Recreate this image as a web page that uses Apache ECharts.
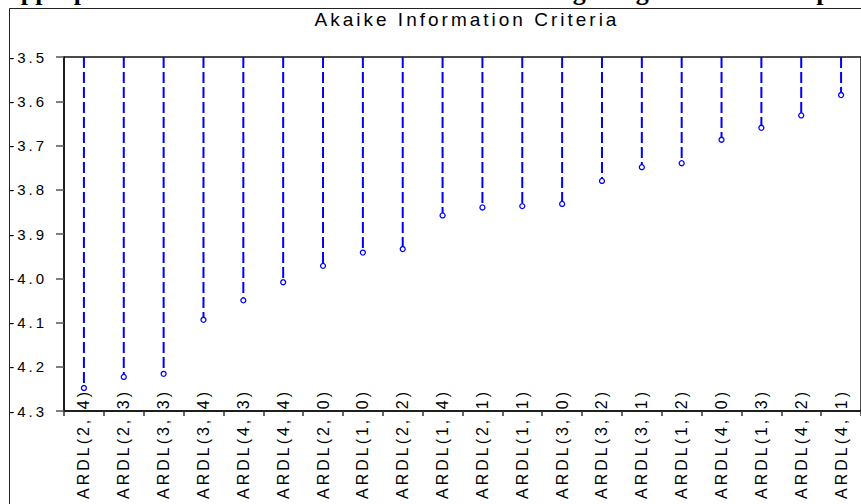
<!DOCTYPE html>
<html>
<head>
<meta charset="utf-8">
<script src="https://cdn.jsdelivr.net/npm/echarts@6/dist/echarts.min.js"></script>
<style>
  html, body { margin: 0; padding: 0; background: #fff; }
  #main { width: 861px; height: 504px; }
  #main text { letter-spacing: 3px; }
  #main text[style*="Serif"] { letter-spacing: 0px; }
</style>
</head>
<body>
<div id="main"></div>
<script>
// ---- data ----
const categories = ['ARDL(2, 4)','ARDL(2, 3)','ARDL(3, 3)','ARDL(3, 4)','ARDL(4, 3)','ARDL(4, 4)','ARDL(2, 0)','ARDL(1, 0)','ARDL(2, 2)','ARDL(1, 4)','ARDL(2, 1)','ARDL(1, 1)','ARDL(3, 0)','ARDL(3, 2)','ARDL(3, 1)','ARDL(1, 2)','ARDL(4, 0)','ARDL(1, 3)','ARDL(4, 2)','ARDL(4, 1)'];
const aicValues = [-4.248,-4.223,-4.216,-4.094,-4.050,-4.009,-3.972,-3.942,-3.934,-3.858,-3.840,-3.837,-3.832,-3.780,-3.749,-3.740,-3.687,-3.660,-3.632,-3.586];
const yMin = -4.3;
const yMax = -3.5;
const yStep = 0.1;
const chartTitle = 'Akaike Information Criteria';
const headingText = 'Appropriate Model Selection of ARDL Based on Lag Length: Akaike Graph';

const chart = echarts.init(document.getElementById('main'), null, { renderer: 'svg' });
const pts = aicValues.map((v, i) => [i, v]);

const option = {
  animation: false,
  backgroundColor: '#fff',
  textStyle: { fontFamily: 'Liberation Sans' },
  title: {
    text: chartTitle,
    left: 467, top: 9.5, padding: 0, textAlign: 'center',
    textStyle: { fontFamily: 'Liberation Sans', fontSize: 19, fontWeight: 'normal', color: '#000' }
  },
  graphic: [
    { type: 'rect', shape: { x: 9.5, y: 8.5, width: 1000, height: 1000 },
      style: { fill: 'none', stroke: '#222', lineWidth: 1 }, z: 10 },
    { type: 'text', x: 2, y: 1.5,
      style: { text: headingText, font: 'bold 26px "Liberation Serif"', fill: '#000', verticalAlign: 'bottom', lineHeight: 20 }, z: 9 }
  ],
  grid: { left: 64, top: 57, width: 808, height: 354, show: true, borderColor: '#111', borderWidth: 1.5, backgroundColor: 'transparent' },
  xAxis: {
    type: 'category', data: categories, boundaryGap: true,
    axisLine: { lineStyle: { color: '#111', width: 1.5 } },
    axisTick: { show: true, interval: 0, length: 5, lineStyle: { color: '#333', width: 1.5 } },
    axisLabel: { interval: 0, rotate: 90, margin: -22, fontFamily: 'Liberation Sans', fontSize: 16, color: '#000' },
    splitLine: { show: false }
  },
  yAxis: {
    type: 'value', min: yMin, max: yMax, interval: yStep,
    axisLine: { show: true, lineStyle: { color: '#111', width: 1.5 } },
    axisTick: { show: true, length: 8, lineStyle: { color: '#555', width: 1.5 } },
    splitLine: { show: false },
    axisLabel: { margin: 17, fontFamily: 'Liberation Sans', fontSize: 15, color: '#000',
      formatter: v => v.toFixed(1) }
  },
  series: [
    {
      type: 'custom',
      data: pts,
      encode: { x: 0, y: 1 },
      renderItem: function (params, api) {
        const top = api.coord([api.value(0), yMax]);
        const p = api.coord([api.value(0), api.value(1)]);
        return {
          type: 'line',
          shape: { x1: top[0], y1: top[1], x2: p[0], y2: p[1] },
          style: { stroke: '#0000ff', lineWidth: 2, lineDash: [11, 4] }
        };
      },
      z: 3
    },
    {
      type: 'scatter',
      data: pts,
      symbol: 'circle', symbolSize: 5,
      itemStyle: { color: '#fff', borderColor: '#0000ff', borderWidth: 1.3, opacity: 1 },
      z: 4
    }
  ]
};
chart.setOption(option);
</script>
</body>
</html>
